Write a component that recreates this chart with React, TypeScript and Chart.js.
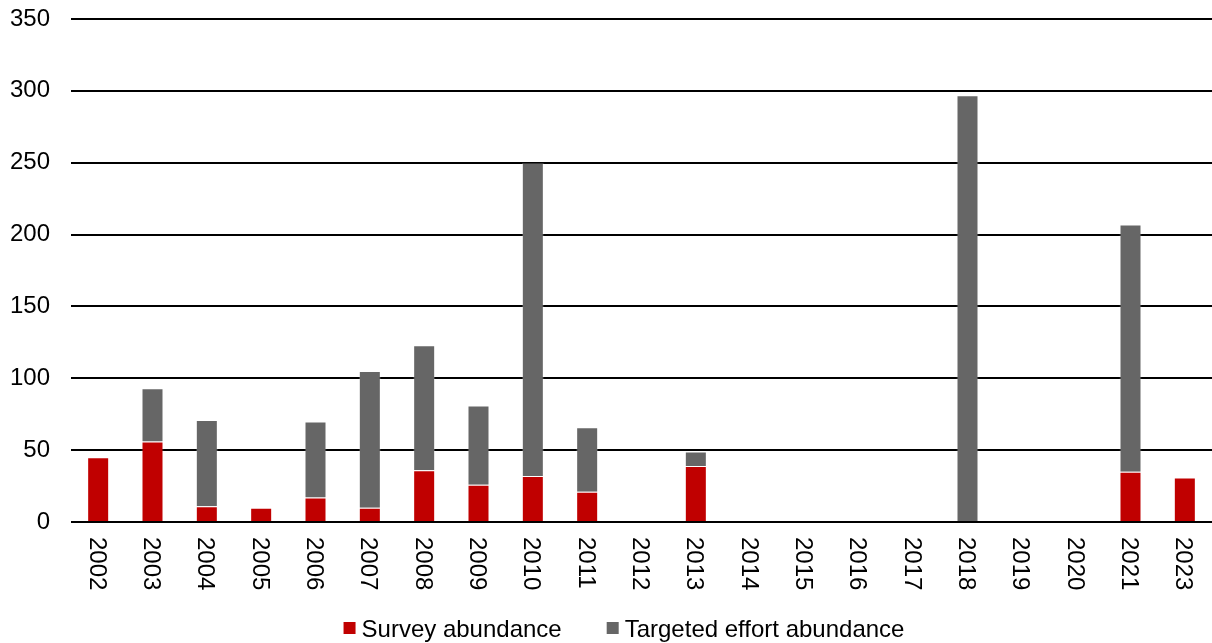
import React, { useEffect, useRef } from "react";
import { Chart, registerables } from "chart.js";

Chart.register(...registerables);

const years: string[] = [
  "2002", "2003", "2004", "2005", "2006", "2007", "2008", "2009", "2010", "2011",
  "2012", "2013", "2014", "2015", "2016", "2017", "2018", "2019", "2020", "2021", "2023",
];
const surveyAbundance: (number | null)[] = [
  45, 56, 11, 10, 17, 10, 36, 26, 32, 21, null, 39, null, null, null, null, null, null, null, 35, 31,
];
const targetedAbundance: (number | null)[] = [
  null, 37, 60, null, 53, 95, 87, 55, 218, 45, null, 10, null, null, null, null, 297, null, null, 172, null,
];
const seriesNames: string[] = ["Survey abundance", "Targeted effort abundance"];
const seriesColors: string[] = ["#C00000", "#666666"];

const FONT = "'Liberation Sans', Arial, sans-serif";

const customLabels = {
  id: "customLabels",
  afterDraw(chart: any) {
    const ctx = chart.ctx;
    const xs = chart.scales.x;
    const area = chart.chartArea;
    ctx.save();
    ctx.fillStyle = "#000";
    ctx.font = `24px ${FONT}`;
    ctx.textAlign = "left";
    ctx.textBaseline = "alphabetic";
    chart.data.labels.forEach((lab: string, i: number) => {
      const cx = xs.getPixelForValue(i);
      ctx.save();
      ctx.translate(cx, area.bottom + 15);
      ctx.rotate(Math.PI / 2);
      ctx.fillText(lab, 0, 8.6);
      ctx.restore();
    });
    // legend
    const items = chart.data.datasets.map((d: any) => ({ text: d.label, color: d.backgroundColor }));
    const box = 12, gap = 6, itemGap = 45;
    const widths = items.map((it: any) => box + gap + ctx.measureText(it.text).width);
    const total = widths.reduce((a: number, b: number) => a + b, 0) + itemGap * (items.length - 1);
    let x = 624 - total / 2;
    const cy = 628;
    items.forEach((it: any, i: number) => {
      ctx.fillStyle = it.color;
      ctx.fillRect(x, cy - 6, box, box);
      ctx.fillStyle = "#000";
      ctx.fillText(it.text, x + box + gap, cy + 8.6);
      x += widths[i] + itemGap;
    });
    ctx.restore();
  },
};

export default function App() {
  const ref = useRef<HTMLCanvasElement | null>(null);
  useEffect(() => {
    document.body.style.margin = "0";
    const canvas = ref.current;
    if (!canvas) return;
    const chart = new Chart(canvas, {
      type: "bar",
      data: {
        labels: years,
        datasets: [
          {
            label: seriesNames[0],
            data: surveyAbundance,
            backgroundColor: seriesColors[0],
            borderColor: "rgba(255,255,255,0.2)",
            borderWidth: { top: 1, left: 1, right: 1, bottom: 0 },
            borderSkipped: false,
            barPercentage: 0.405,
            categoryPercentage: 1,
          },
          {
            label: seriesNames[1],
            data: targetedAbundance,
            backgroundColor: seriesColors[1],
            borderColor: "rgba(255,255,255,0.2)",
            borderWidth: { top: 1, left: 1, right: 1, bottom: 0 },
            borderSkipped: false,
            barPercentage: 0.405,
            categoryPercentage: 1,
          },
        ],
      },
      options: {
        responsive: false,
        animation: false,
        devicePixelRatio: 1,
        layout: { padding: { top: 19, bottom: 121, left: 0, right: 0 } },
        plugins: { legend: { display: false }, tooltip: { enabled: false } },
        scales: {
          x: {
            stacked: true,
            grid: { display: false },
            border: { display: false },
            ticks: { display: false },
            afterFit: (s: any) => { s.height = 0; },
          },
          y: {
            stacked: true,
            min: 0,
            max: 350,
            grid: { color: "#000", lineWidth: 2, drawTicks: false },
            border: { display: false },
            ticks: {
              stepSize: 50,
              padding: 21,
              color: "#000",
              font: { family: FONT, size: 24 },
            },
            afterFit: (s: any) => {
              s.width = 71;
              s.paddingTop = 0;
              s.paddingBottom = 0;
            },
          },
        },
      },
      plugins: [customLabels],
    });
    return () => chart.destroy();
  }, []);
  return (
    <div style={{ width: 1212, height: 643 }}>
      <canvas ref={ref} width={1212} height={643} style={{ display: "block", width: 1212, height: 643 }} />
    </div>
  );
}
